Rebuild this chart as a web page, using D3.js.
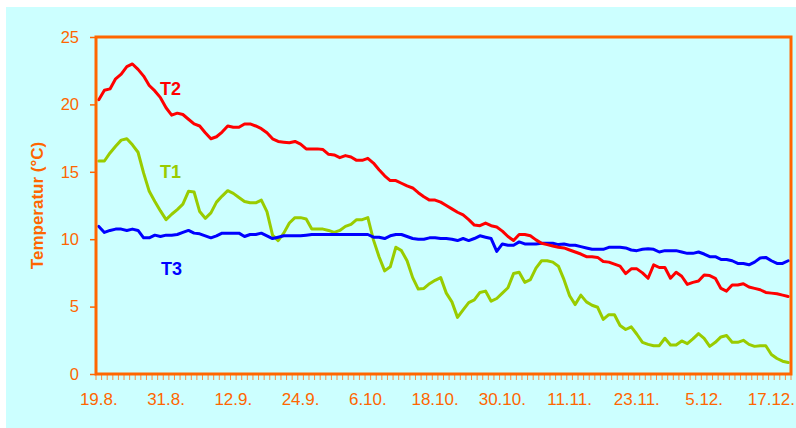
<!DOCTYPE html>
<html>
<head>
<meta charset="utf-8">
<script src="https://cdn.jsdelivr.net/npm/d3@7"></script>
<style>
  html, body { margin: 0; padding: 0; background: #ffffff; }
  svg { display: block; }
  text { font-family: "Liberation Sans", Arial, sans-serif; }
</style>
</head>
<body>
<svg id="chart" width="796" height="428"></svg>
<script>
// ---- data ----
const startDate = new Date(2000, 7, 19);   // 19.8.
const dayCount = 124;                       // 19.8. .. 20.12.
const tickLabels = ["19.8.", "31.8.", "12.9.", "24.9.", "6.10.", "18.10.", "30.10.", "11.11.", "23.11.", "5.12.", "17.12."];
const yTicks = [0, 5, 10, 15, 20, 25];
const seriesNames = ["T1", "T2", "T3"];

const T1 = [
  15.8,15.8,16.4,16.9,17.35,17.45,17.0,16.45,14.9,13.55,12.8,12.1,11.45,11.85,12.2,12.6,
  13.55,13.5,12.05,11.55,11.95,12.75,13.2,13.6,13.4,13.1,12.8,12.7,12.7,12.9,12.05,10.3,
  9.9,10.45,11.2,11.6,11.6,11.5,10.75,10.75,10.75,10.65,10.5,10.65,10.95,11.1,11.45,11.45,
  11.6,9.95,8.7,7.65,7.95,9.4,9.15,8.4,7.15,6.3,6.35,6.7,6.95,7.15,6.0,
  5.35,4.2,4.75,5.3,5.5,6.05,6.15,5.4,5.6,6.0,6.4,7.45,7.55,6.8,7.0,7.85,
  8.4,8.4,8.3,8.0,7.0,5.8,5.15,5.85,5.35,5.1,4.95,4.05,4.4,4.4,3.6,
  3.3,3.5,2.95,2.35,2.2,2.1,2.1,2.65,2.15,2.15,2.45,2.25,2.6,3.0,2.65,
  2.05,2.35,2.75,2.85,2.35,2.35,2.5,2.2,2.05,2.1,2.1,1.45,1.15,0.95,0.85
];
const T2 = [
  20.35,21.05,21.15,21.9,22.25,22.8,23.0,22.6,22.1,21.4,21.0,20.5,19.75,19.2,19.35,19.25,
  18.9,18.55,18.4,17.9,17.45,17.6,17.95,18.4,18.3,18.3,18.55,18.55,18.4,18.2,17.9,17.45,
  17.25,17.2,17.15,17.25,17.05,16.7,16.7,16.7,16.65,16.3,16.25,16.05,16.2,16.1,15.85,15.85,
  16.0,15.65,15.15,14.7,14.35,14.35,14.15,13.95,13.8,13.45,13.15,12.9,12.9,12.75,12.5,
  12.25,12.0,11.8,11.45,11.05,11.0,11.2,11.0,10.9,10.6,10.2,9.9,10.35,10.35,10.25,9.95,
  9.7,9.6,9.5,9.4,9.35,9.2,9.05,8.9,8.7,8.7,8.65,8.35,8.3,8.15,8.0,
  7.45,7.8,7.8,7.5,7.1,8.1,7.9,7.9,7.1,7.55,7.25,6.65,6.8,6.9,7.35,
  7.3,7.1,6.35,6.15,6.6,6.6,6.7,6.45,6.35,6.25,6.05,6.0,5.95,5.85,5.75
];
const T3 = [
  10.95,10.5,10.65,10.75,10.75,10.65,10.75,10.65,10.1,10.1,10.3,10.2,10.3,10.3,10.35,10.5,
  10.65,10.45,10.4,10.25,10.1,10.25,10.45,10.45,10.45,10.45,10.2,10.35,10.35,10.45,10.25,10.05,
  10.15,10.25,10.25,10.25,10.25,10.3,10.35,10.35,10.35,10.35,10.35,10.35,10.35,10.35,10.35,10.35,
  10.35,10.15,10.15,10.05,10.25,10.35,10.35,10.2,10.05,10.0,10.0,10.1,10.1,10.05,10.05,
  10.0,9.9,10.05,9.9,10.05,10.25,10.15,10.05,9.1,9.65,9.55,9.55,9.8,9.65,9.65,9.65,
  9.7,9.7,9.7,9.6,9.65,9.55,9.55,9.45,9.35,9.25,9.25,9.25,9.4,9.4,9.4,
  9.35,9.2,9.15,9.25,9.3,9.25,9.05,9.15,9.15,9.15,9.05,8.95,8.95,9.05,8.9,
  8.7,8.7,8.5,8.5,8.4,8.2,8.2,8.1,8.3,8.6,8.65,8.4,8.2,8.2,8.4
];

// ---- setup ----
const W = 796, H = 428;
const plot = { left: 96, right: 791, top: 37, bottom: 374 };
const orange = "#ff6600";
const colors = { T1: "#99cc00", T2: "#ff0000", T3: "#0000ff" };

const dates = d3.timeDay.range(startDate, d3.timeDay.offset(startDate, dayCount));
const fmt = d3.timeFormat("%-d.%-m.");

const svg = d3.select("#chart");
svg.append("rect").attr("x", 0).attr("y", 0).attr("width", W).attr("height", H).attr("fill", "#ffffff");
svg.append("rect").attr("x", 6).attr("y", 7).attr("width", W - 6).attr("height", H - 7).attr("fill", "#ccffff");

const x = d3.scaleBand().domain(dates).range([plot.left, plot.right]).padding(0);
const y = d3.scaleLinear().domain([0, 25]).range([plot.bottom, plot.top]);
const cx = d => x(d) + x.bandwidth() / 2;

// lines
const seriesData = { T1, T2, T3 };
const line = d3.line().x((v, i) => cx(dates[i])).y(v => y(v)).curve(d3.curveLinear);
["T1", "T3", "T2"].forEach(name => {
  svg.append("path")
    .datum(seriesData[name])
    .attr("d", line)
    .attr("fill", "none")
    .attr("stroke", colors[name])
    .attr("stroke-width", 3)
    .attr("stroke-linejoin", "round")
    .attr("stroke-linecap", "round");
});

// category tick marks (between days)
const minor = svg.append("g");
dates.concat([null]).forEach((d, i) => {
  const xx = d ? x(d) : plot.right;
  minor.append("line")
    .attr("x1", xx).attr("x2", xx)
    .attr("y1", plot.bottom).attr("y2", plot.bottom + 6)
    .attr("stroke", "#ff8c40").attr("stroke-width", 1);
});

// x labels
const labelDates = dates.filter(d => tickLabels.includes(fmt(d)));
svg.append("g").selectAll("text")
  .data(labelDates)
  .join("text")
  .attr("x", d => cx(d))
  .attr("y", 405)
  .attr("text-anchor", "middle")
  .attr("fill", orange)
  .attr("font-size", 17)
  .text(d => fmt(d));

// y axis
const yAxis = d3.axisLeft(y).tickValues(yTicks).tickSize(6).tickPadding(11).tickFormat(d3.format("d"));
const gy = svg.append("g").attr("transform", `translate(${plot.left},0)`).call(yAxis);
gy.select(".domain").remove();
gy.selectAll(".tick line").attr("stroke", orange).attr("stroke-width", 1.5);
gy.selectAll(".tick text").attr("fill", orange).attr("font-size", 16.5)
  .attr("font-family", "'Liberation Sans', Arial, sans-serif");

// frame
svg.append("rect")
  .attr("x", plot.left).attr("y", plot.top)
  .attr("width", plot.right - plot.left).attr("height", plot.bottom - plot.top)
  .attr("fill", "none").attr("stroke", orange).attr("stroke-width", 3);

// y title
svg.append("text")
  .attr("transform", `translate(43,${(plot.top + plot.bottom) / 2}) rotate(-90)`)
  .attr("text-anchor", "middle")
  .attr("fill", orange)
  .attr("font-size", 17)
  .attr("font-weight", "bold")
  .text("Temperatur (°C)");

// series labels
const labelPos = { T2: [160, 95], T1: [160, 178], T3: [161, 275] };
seriesNames.forEach(name => {
  svg.append("text")
    .attr("x", labelPos[name][0]).attr("y", labelPos[name][1])
    .attr("fill", colors[name])
    .attr("font-size", 18)
    .attr("font-weight", "bold")
    .text(name);
});
</script>
</body>
</html>
